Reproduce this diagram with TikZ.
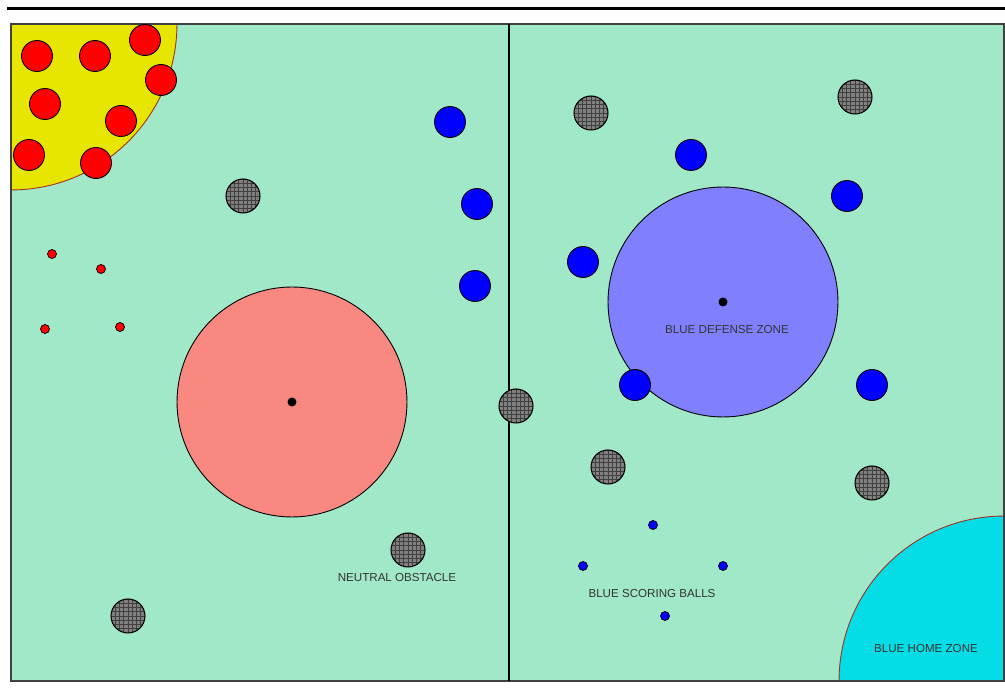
\documentclass[tikz,border=0pt]{standalone}
\usepackage{fontspec}
\setsansfont{Liberation Sans}
\definecolor{fieldgreen}{HTML}{A0E8C8}
\definecolor{homeyellow}{HTML}{E6E600}
\definecolor{homecyan}{HTML}{04DCE6}
\definecolor{neutralred}{HTML}{F88880}
\definecolor{defenseblue}{HTML}{8080FF}
\definecolor{zoneedge}{HTML}{A03020}
\begin{document}
\begin{tikzpicture}[x=0.02cm, y=-0.02cm,
  bigball/.style={circle, draw=black, line width=0.5pt, inner sep=0pt, minimum size=0.62cm},
  smallball/.style={circle, draw=black, line width=0.4pt, inner sep=0pt, minimum size=0.18cm},
  obstacle/.style={circle, draw=black, line width=0.6pt, fill=gray, inner sep=0pt,
    minimum size=0.68cm, path picture={\draw[black!75, line width=0.5pt, step=0.085cm]
      (path picture bounding box.south west) grid (path picture bounding box.north east);}},
  zone/.style={circle, draw=black, line width=0.5pt, inner sep=0pt, minimum size=4.6cm},
  zonetext/.style={font=\sffamily\fontsize{6.6}{8}\selectfont, text=black!80, inner sep=0pt}
]
  \useasboundingbox (0,0) rectangle (1005,688);

  % Top rule and field
  \draw[line width=1.7pt] (7,9) -- (1005,9);
  \fill[fieldgreen] (11,24) rectangle (1004,681);

  % Home zones in the corners
  \begin{scope}
    \clip (11,24) rectangle (1004,681);
    \filldraw[fill=homeyellow, draw=zoneedge, line width=0.5pt] (11,24) circle [radius=3.32cm];
    \filldraw[fill=homecyan, draw=zoneedge, line width=0.5pt] (1004,681) circle [radius=3.3cm];
  \end{scope}
  \draw[black!75, line width=0.6pt] (11,24) rectangle (1004,681);
  \coordinate (midtop) at (509,24);
  \coordinate (midbot) at (509,681);
  \draw[line width=0.6pt] (midtop) -- (midbot);

  % Zones
  \node[zone, fill=neutralred] (redzone) at (292,402) {};
  \fill (redzone.center) circle [radius=0.09cm];
  \node[zone, fill=defenseblue] (bluezone) at (723,302) {};
  \fill (bluezone.center) circle [radius=0.09cm];

  % Neutral obstacles
  \foreach \x/\y [count=\i] in {243/196, 516/406, 408/550, 128/616, 591/113, 855/97, 608/467, 872/483}
    \node[obstacle] (obs\i) at (\x,\y) {};

  % Red balls
  \foreach \x/\y [count=\i] in {37/56, 95/56, 145/40, 161/80, 45/104, 121/121, 29/155, 96/163}
    \node[bigball, fill=red] (red\i) at (\x,\y) {};
  \foreach \x/\y [count=\i] in {52/254, 101/269, 45/329, 120/327}
    \node[smallball, fill=red] (redscore\i) at (\x,\y) {};

  % Blue balls
  \foreach \x/\y [count=\i] in {450/122, 477/204, 475/286, 691/155, 847/196, 583/262, 635/385, 872/385}
    \node[bigball, fill=blue] (blue\i) at (\x,\y) {};
  \foreach \x/\y [count=\i] in {653/525, 583/566, 723/566, 665/616}
    \node[smallball, fill=blue] (bluescore\i) at (\x,\y) {};

  % Labels
  \node[zonetext] (obstext) at (397,578) {NEUTRAL OBSTACLE};
  \node[zonetext] (scoretext) at (652,594) {BLUE SCORING BALLS};
  \node[zonetext] (defensetext) at (727,330) {BLUE DEFENSE ZONE};
  \node[zonetext] (hometext) at (926,649) {BLUE HOME ZONE};
\end{tikzpicture}
\end{document}
